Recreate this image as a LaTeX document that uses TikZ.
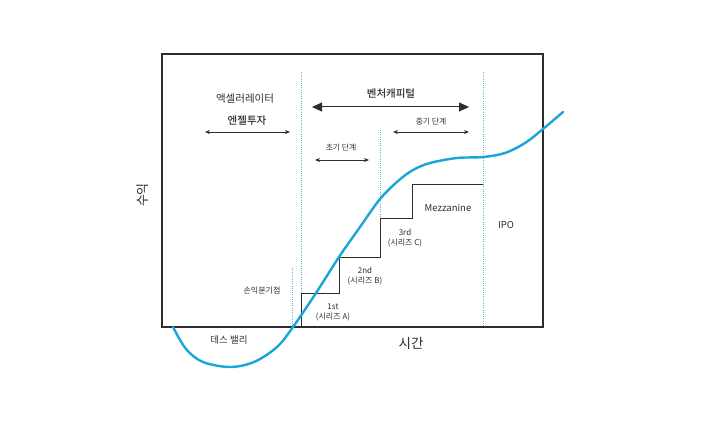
\documentclass[tikz,border=0pt]{standalone}
\usepackage{fontspec}
\setmainfont{Noto Sans CJK KR}
\newfontfamily\krbold{Noto Sans CJK KR Medium}
\usetikzlibrary{arrows.meta}
\definecolor{curvec}{RGB}{25,165,215}
\definecolor{dotc}{RGB}{90,180,215}
\definecolor{ink}{RGB}{45,45,45}
\tikzset{
  frameline/.style={draw=ink, line width=1.1pt},
  stepline/.style={draw=ink, line width=0.95pt},
  guide/.style={draw=dotc, line width=0.9pt, dash pattern=on 1pt off 1.2pt},
  lbl/.style={text=ink, inner sep=0pt, align=center},
  stagearrow/.style={draw=ink, line width=0.8pt, {Stealth[length=5pt,width=4pt]}-{Stealth[length=5pt,width=4pt]}},
  bigarrow/.style={draw=ink, line width=1pt, {Triangle[length=10pt,width=9pt]}-{Triangle[length=10pt,width=9pt]}},
  growth/.style={draw=curvec, line width=2.4pt, line cap=round}
}
\begin{document}
\begin{tikzpicture}[x=1pt,y=-1pt]
\useasboundingbox (0,0) rectangle (727,433);
% frame
\draw[frameline] (162,54) rectangle (543,327);
% guides
\coordinate (g1t) at (301,72);  \coordinate (g1b) at (301,327);
\coordinate (g2t) at (380.5,130); \coordinate (g2b) at (380.5,218);
\coordinate (g3t) at (483,72);  \coordinate (g3b) at (483,327);
\coordinate (g4t) at (292,268); \coordinate (g4b) at (292,327);
\draw[guide] (g1t) -- (g1b);
\draw[guide] (g2t) -- (g2b);
\draw[guide] (g3t) -- (g3b);
\draw[guide] (g4t) -- (g4b);
% steps
\coordinate (s0) at (301,327);
\coordinate (s1) at (301,293);
\coordinate (s2) at (339,293);
\coordinate (s3) at (339,257);
\coordinate (s4) at (380.5,257);
\coordinate (s5) at (380.5,218);
\coordinate (s6) at (412,218);
\coordinate (s7) at (412,184);
\coordinate (s8) at (483,184);
\draw[stepline] (s0) -- (s1) -- (s2) -- (s3) -- (s4) -- (s5) -- (s6) -- (s7) -- (s8);
% growth curve
\draw[growth] plot[smooth, tension=0.55] coordinates {
 (173,327) (186,349) (203,362) (230,367) (254,362) (277,347) (293,327)
 (316,293) (339,257) (360,227) (380,199) (398,181) (413,170) (430,163)
 (457,158) (483,157) (505,153) (525,143) (543,129) (563,112)};
% texts top
\node[lbl, font=\fontsize{10.5}{12}\selectfont] (accel) at (245,99) {액셀러레이터};
\node[lbl, font=\krbold\fontsize{10.5}{12}\selectfont] (angel) at (247,121) {엔젤투자};
\node[lbl, font=\krbold\fontsize{10.5}{12}\selectfont] (vc) at (391,94) {벤처캐피털};
\node[lbl, font=\fontsize{7.8}{9}\selectfont] (mid) at (431,122) {중기 단계};
\node[lbl, font=\fontsize{7.8}{9}\selectfont] (early) at (341,148) {초기 단계};
% arrows
\coordinate (a1l) at (205,132); \coordinate (a1r) at (290,132);
\draw[stagearrow] (a1l) -- (a1r);
\coordinate (a2l) at (312,107); \coordinate (a2r) at (469,107);
\draw[bigarrow] (a2l) -- (a2r);
\coordinate (a3l) at (393,132); \coordinate (a3r) at (469,132);
\draw[stagearrow] (a3l) -- (a3r);
\coordinate (a4l) at (315,160); \coordinate (a4r) at (369,160);
\draw[stagearrow] (a4l) -- (a4r);
% axis labels
\node[lbl, font=\fontsize{13}{15}\selectfont, rotate=90] (yl) at (143,195) {수익};
\node[lbl, font=\fontsize{13.5}{15}\selectfont] (xl) at (411,343) {시간};
% other labels
\node[lbl, font=\fontsize{9.5}{11}\selectfont] (dv) at (229,340) {데스 밸리};
\node[lbl, font=\fontsize{8}{9}\selectfont] (be) at (262,291) {손익분기점};
\node[lbl, font=\fontsize{8}{10}\selectfont] (r1) at (333,312) {1st\\(시리즈 A)};
\node[lbl, font=\fontsize{8}{10}\selectfont] (r2) at (365,276) {2nd\\(시리즈 B)};
\node[lbl, font=\fontsize{8}{10}\selectfont] (r3) at (405,238) {3rd\\(시리즈 C)};
\node[lbl, font=\fontsize{9.5}{11}\selectfont] (mz) at (448,208) {Mezzanine};
\node[lbl, font=\fontsize{9.5}{11}\selectfont] (ipo) at (506,225) {IPO};
\end{tikzpicture}
\end{document}
